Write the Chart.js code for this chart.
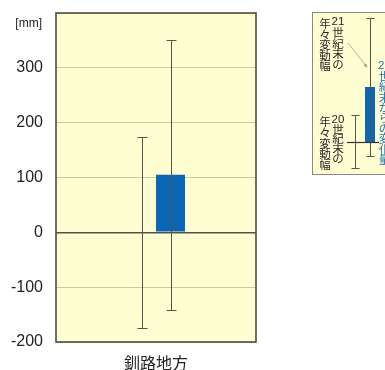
<!DOCTYPE html>
<html>
<head>
<meta charset="utf-8">
<script src="https://cdn.jsdelivr.net/npm/chart.js@4"></script>
<style>
  html, body { margin: 0; padding: 0; background: #ffffff; }
  #wrap { width: 385px; height: 370px; }
</style>
</head>
<body>
<div id="wrap"><canvas id="c" width="385" height="370"></canvas></div>
<script>
// ---- data ----
const categories = ['釧路地方'];
const change21 = [105];            // 21世紀末の20世紀末からの変化量
const range20 = [[-175, 173]];     // 20世紀末の年々変動幅
const range21 = [[-142, 350]];     // 21世紀末の年々変動幅
const yTicks = [-200, -100, 0, 100, 200, 300];
const yMin = -200;
const yMax = 400;
const unitLabel = '[mm]';
const keyUpper = ['年々変動幅', '21世紀末の'];
const keyLower = ['年々変動幅', '20世紀末の'];
const keyChange = '20世紀末からの変化量';

// ---- styles ----
const PANEL = '#fffdd2';
const GRID = '#cfc9a0';
const FRAME = '#4e4c44';
const WHISKER = '#56534a';
const BAR = '#0b66b6';
const KEY_TEXT = '#2a2a2a';
const KEY_BLUE = '#2277c4';
const NUM_FONT = "'Liberation Sans', Arial, sans-serif";
const JP_FONT = "'Noto Sans CJK JP', sans-serif";

function rangeLine(ctx, x, yA, yB, half) {
  ctx.beginPath();
  ctx.moveTo(x, yA); ctx.lineTo(x, yB);
  ctx.moveTo(x - half, yA); ctx.lineTo(x + half, yA);
  ctx.moveTo(x - half, yB); ctx.lineTo(x + half, yB);
  ctx.stroke();
}

// draws one vertical column of text, one glyph (or digit pair) per cell
function verticalText(ctx, text, x, yStart, step) {
  const cells = text.match(/\d+|./g);
  cells.forEach((s, i) => {
    ctx.font = /\d/.test(s) ? '11.5px ' + NUM_FONT : '11.5px ' + JP_FONT;
    ctx.fillText(s, x, yStart + i * step);
  });
}

const panelPlugin = {
  id: 'panel',
  beforeDraw(chart) {
    const { ctx, chartArea: a } = chart;
    ctx.save();
    ctx.fillStyle = PANEL;
    ctx.fillRect(a.left, a.top, a.right - a.left, a.bottom - a.top);
    ctx.restore();
  },
  afterDatasetsDraw(chart) {
    const { ctx, chartArea: a, scales } = chart;
    const y = scales.y;
    ctx.save();
    // annual variability ranges, one over each grouped slot
    ctx.strokeStyle = WHISKER;
    ctx.lineWidth = 1;
    [range20, range21].forEach((ranges, di) => {
      const meta = chart.getDatasetMeta(di);
      ranges.forEach((r, i) => {
        const el = meta.data[i];
        const x = Math.round(el.x) + 0.5;
        rangeLine(ctx, x, Math.round(y.getPixelForValue(r[1])) + 0.5,
          Math.round(y.getPixelForValue(r[0])) + 0.5, 5);
      });
    });
    // plot frame
    ctx.strokeStyle = FRAME;
    ctx.lineWidth = 1.6;
    ctx.strokeRect(a.left, a.top, a.right - a.left, a.bottom - a.top);
    // unit label
    ctx.fillStyle = '#222';
    ctx.font = '12px ' + NUM_FONT;
    ctx.textAlign = 'right';
    ctx.textBaseline = 'middle';
    ctx.fillText(unitLabel, a.left - 14, 24);
    ctx.restore();
  },
  afterDraw(chart) {
    // explanatory key beside the plot
    const { ctx } = chart;
    ctx.save();
    ctx.fillStyle = PANEL;
    ctx.strokeStyle = '#8a8a80';
    ctx.lineWidth = 1;
    ctx.fillRect(312.5, 12.5, 80, 162);
    ctx.strokeRect(312.5, 12.5, 80, 162);

    ctx.textAlign = 'center';
    ctx.textBaseline = 'middle';
    ctx.fillStyle = KEY_TEXT;
    verticalText(ctx, keyUpper[0], 325, 24, 10.5);
    verticalText(ctx, keyUpper[1], 338, 22, 10.6);
    verticalText(ctx, keyLower[0], 325, 122, 10.6);
    verticalText(ctx, keyLower[1], 338, 119.5, 9.8);
    ctx.fillStyle = KEY_BLUE;
    verticalText(ctx, keyChange, 384.5, 66, 10.4);

    // pointer from the label to the upper range
    ctx.strokeStyle = '#9a9a90';
    ctx.lineWidth = 0.8;
    ctx.beginPath();
    ctx.moveTo(348, 43); ctx.lineTo(367, 67);
    ctx.stroke();
    ctx.beginPath();
    ctx.moveTo(367.5, 68); ctx.lineTo(363.5, 65.5); ctx.lineTo(366, 63.5);
    ctx.closePath();
    ctx.fillStyle = '#9a9a90';
    ctx.fill();

    // sample bar, baseline and ranges
    ctx.fillStyle = BAR;
    ctx.fillRect(365, 87, 10, 55);
    ctx.strokeStyle = WHISKER;
    ctx.lineWidth = 1;
    rangeLine(ctx, 370.5, 18.5, 156.5, 4);
    rangeLine(ctx, 355.5, 115.5, 168.5, 4);
    ctx.strokeStyle = '#333';
    ctx.lineWidth = 1.2;
    ctx.beginPath();
    ctx.moveTo(347, 142.5); ctx.lineTo(379, 142.5);
    ctx.stroke();
    ctx.restore();
  }
};

new Chart(document.getElementById('c'), {
  type: 'bar',
  data: {
    labels: categories,
    datasets: [
      { label: '20世紀末', data: categories.map(() => 0), backgroundColor: 'rgba(0,0,0,0)', borderWidth: 0 },
      { label: '変化量', data: change21, backgroundColor: BAR, borderWidth: 0 }
    ]
  },
  options: {
    responsive: false,
    animation: false,
    events: [],
    layout: { padding: { top: 13, right: 129, left: 0, bottom: 0 } },
    categoryPercentage: 0.29,
    barPercentage: 1.0,
    plugins: { legend: { display: false }, tooltip: { enabled: false }, title: { display: false } },
    scales: {
      x: {
        grid: { display: false },
        border: { display: false },
        ticks: { color: '#222', padding: 3, font: { family: JP_FONT, size: 16 } },
        afterFit(s) { s.height = 28; }
      },
      y: {
        min: yMin,
        max: yMax,
        afterBuildTicks(s) {
          s.ticks = yTicks.concat([yMax]).map(v => ({ value: v }));
        },
        ticks: {
          color: '#222',
          padding: 13,
          font: { family: NUM_FONT, size: 16 },
          callback: v => (yTicks.includes(v) ? String(v) : '')
        },
        grid: {
          drawTicks: false,
          color: c => (c.tick && c.tick.value === 0 ? '#55534b' : GRID),
          lineWidth: c => (c.tick && c.tick.value === 0 ? 1.5 : 1)
        },
        border: { display: false },
        afterFit(s) {
          s.width = 56;
          s.paddingTop = 0;
          s.paddingBottom = 0;
        }
      }
    }
  },
  plugins: [panelPlugin]
});
</script>
</body>
</html>
